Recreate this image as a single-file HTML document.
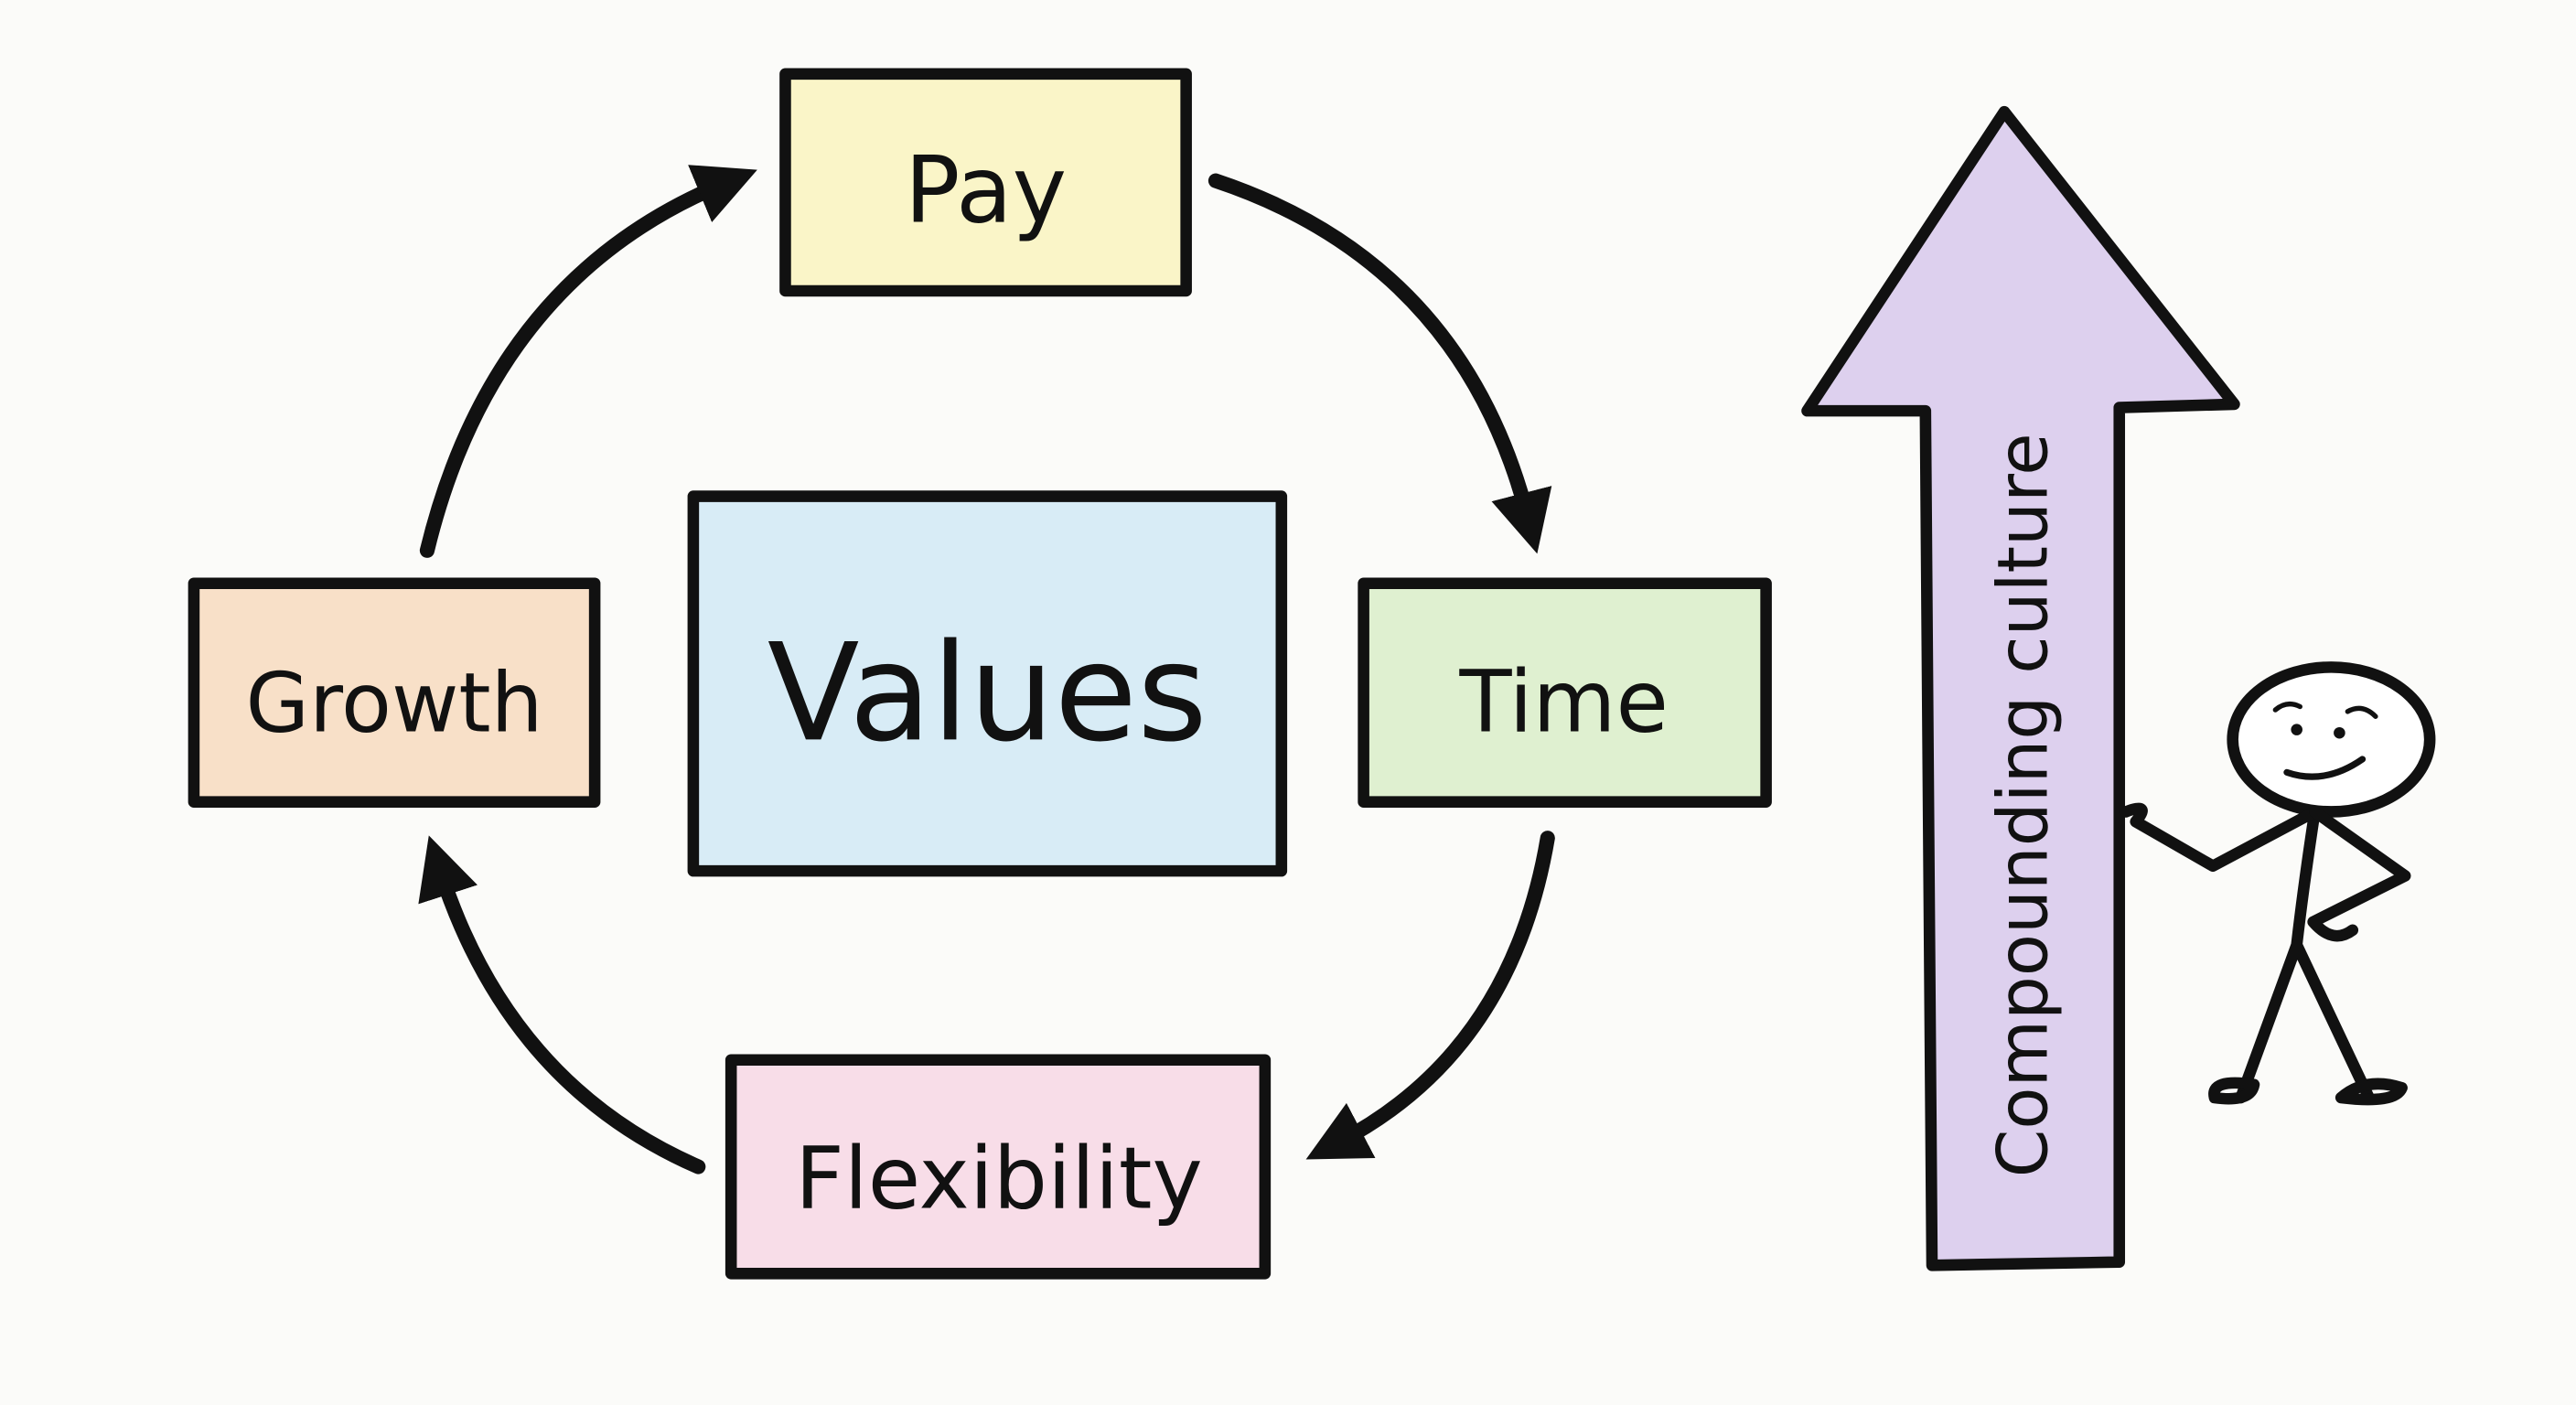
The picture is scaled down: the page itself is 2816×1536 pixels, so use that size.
<!DOCTYPE html>
<html><head><style>
html,body{margin:0;padding:0;background:#fbfbf9;}
svg{display:block}
text{font-family:"DejaVu Sans","Liberation Sans",sans-serif;fill:#111;font-weight:500;}
</style></head><body>
<svg width="2816" height="1536" viewBox="0 0 1568 855" preserveAspectRatio="none" xmlns="http://www.w3.org/2000/svg">
<rect width="1568" height="855" fill="#fbfbf9"/>
<defs>
<marker id="ah" viewBox="0 0 10 10" refX="4" refY="5" markerWidth="4.2" markerHeight="4.2" orient="auto" markerUnits="strokeWidth">
<path d="M0,0 L10,5 L0,10 z" fill="#111"/></marker>
</defs>
<g stroke="#111" stroke-width="7" stroke-linejoin="round" stroke-linecap="round">
<rect x="478" y="45" width="244" height="132" fill="#faf5c8"/>
<rect x="422" y="302" width="358" height="228" fill="#d8ecf6"/>
<rect x="830" y="355" width="245" height="133" fill="#dff0d0"/>
<rect x="118" y="355" width="244" height="133" fill="#f8e0c8"/>
<rect x="445" y="645" width="325" height="130" fill="#f8dde8"/>
<g fill="none" stroke-width="9">
<path d="M260,335 Q300,170 440,112" marker-end="url(#ah)"/>
<path d="M740,110 Q890,160 930,315" marker-end="url(#ah)"/>
<path d="M942,510 Q920,640 815,695" marker-end="url(#ah)"/>
<path d="M425,710 Q310,660 268,530" marker-end="url(#ah)"/>
</g>
<path d="M1220,68 L1360,246 L1290,248 L1290,768 L1176,770 L1172,250 L1100,250 Z" fill="#ddd0ee"/>
<g fill="none" stroke-width="7">
<ellipse cx="1419" cy="450" rx="60" ry="44" fill="#fff"/>
<path d="M1409,494 Q1402,540 1398,575 L1364,668 M1398,575 L1442,668"/>
<path d="M1409,494 L1347,527 L1300,500 Q1310,488 1294,494"/>
<path d="M1409,494 L1464,533 L1408,561 Q1420,575 1432,566"/>
<path d="M1348,668 Q1345,656 1372,660 Q1370,671 1348,668 Z M1425,668 Q1440,655 1462,662 Q1458,672 1425,668 Z"/>
<path d="M1392,470 Q1415,478 1438,462" stroke-width="4"/>
<path d="M1385,432 Q1392,426 1400,430 M1429,433 Q1438,428 1446,436" stroke-width="3"/>
</g>
<circle cx="1398" cy="444" r="3.5" fill="#111" stroke="none"/>
<circle cx="1424" cy="446" r="3.5" fill="#111" stroke="none"/>
</g>
<text x="600" y="135" font-size="56" text-anchor="middle">Pay</text>
<text x="601" y="450" font-size="82" text-anchor="middle">Values</text>
<text x="952" y="445" font-size="52" text-anchor="middle">Time</text>
<text x="240" y="445" font-size="50" text-anchor="middle">Growth</text>
<text x="608" y="735" font-size="52" text-anchor="middle">Flexibility</text>
<text x="0" y="0" font-size="42" text-anchor="middle" transform="translate(1246,490) rotate(-90)">Compounding culture</text>
</svg>
</body></html>
